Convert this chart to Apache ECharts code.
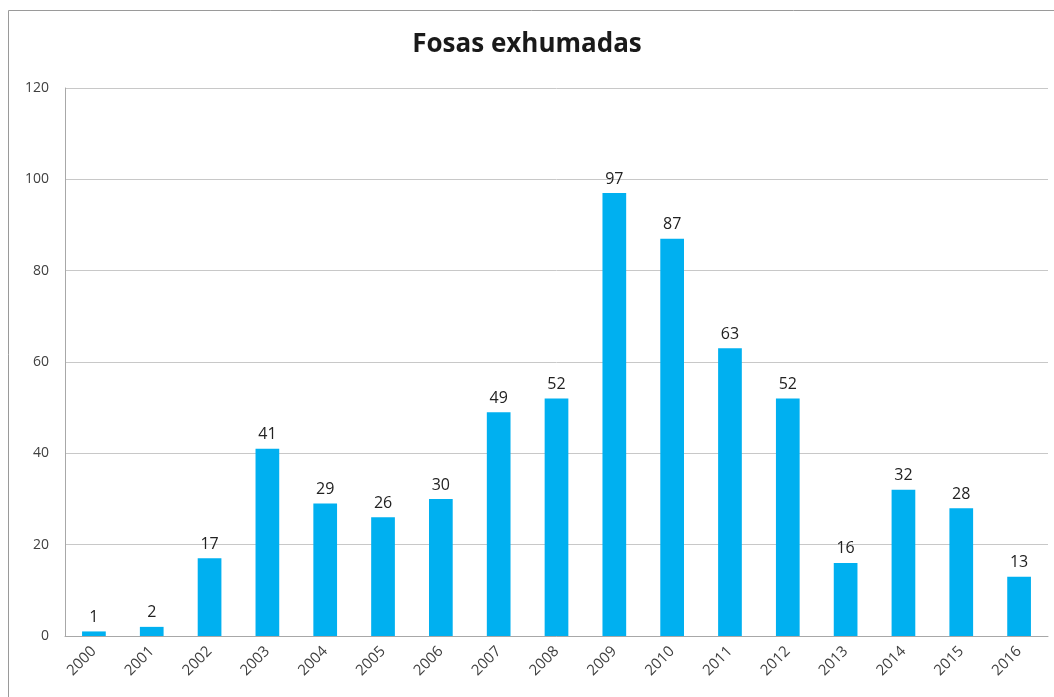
<!DOCTYPE html>
<html>
<head>
<meta charset="utf-8">
<script src="https://cdn.jsdelivr.net/npm/echarts@6/dist/echarts.min.js"></script>
<style>
  html, body { margin: 0; padding: 0; background: #fff; }
  #main { width: 1054px; height: 697px; }
</style>
</head>
<body>
<div id="main"></div>
<script>
// años y fosas exhumadas
var years = ['2000','2001','2002','2003','2004','2005','2006','2007','2008',
             '2009','2010','2011','2012','2013','2014','2015','2016'];
var fosas = [1, 2, 17, 41, 29, 26, 30, 49, 52, 97, 87, 63, 52, 16, 32, 28, 13];

var myChart = echarts.init(document.getElementById('main'));

var option = {
    animation: false,
    title: {
        text: 'Fosas exhumadas',
        left: 'center',
        top: 27,
        textStyle: { fontFamily: 'Open Sans', fontSize: 26, fontWeight: 'bold', color: '#1a1a1a' }
    },
    graphic: [{
        type: 'rect',
        shape: { x: 8.5, y: 10.5, width: 1100, height: 720 },
        style: { fill: 'none', stroke: '#9a9a9a', lineWidth: 1 }
    }],
    grid: { left: 65, right: 6, top: 88, bottom: 61 },
    xAxis: {
        type: 'category',
        data: years,
        axisLine: { lineStyle: { color: '#a8a8a8' } },
        axisTick: { show: false },
        axisLabel: {
            rotate: 45, color: '#404040', fontFamily: 'Open Sans', fontSize: 15, margin: 13
        }
    },
    yAxis: {
        type: 'value',
        min: 0, max: 120, interval: 20,
        axisLine: { show: true, lineStyle: { color: '#a8a8a8' } },
        axisTick: { show: false },
        splitLine: { lineStyle: { color: '#c8c8c8' } },
        axisLabel: { color: '#404040', fontFamily: 'Open Sans', fontSize: 14, margin: 16 }
    },
    series: [{
        type: 'bar',
        data: fosas,
        barWidth: '41%',
        itemStyle: { color: '#00b0f0' },
        label: {
            show: true, position: 'top', distance: 6,
            color: '#222', fontFamily: 'Open Sans', fontSize: 16
        }
    }]
};

myChart.setOption(option, true);
</script>
</body>
</html>
